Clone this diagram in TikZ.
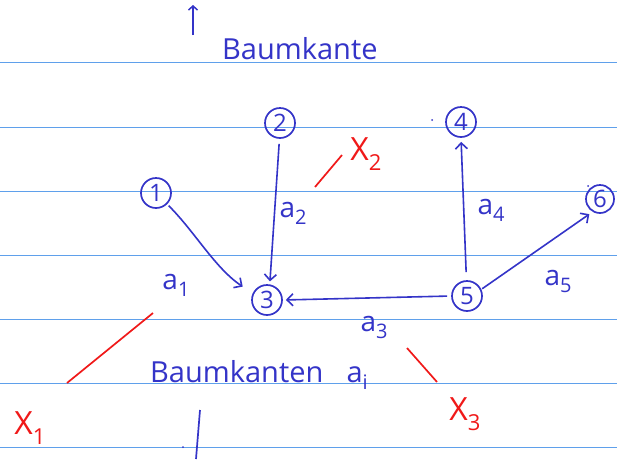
\documentclass[tikz,border=0pt]{standalone}
\usepackage{fontspec}
\setmainfont{Open Sans}
\usetikzlibrary{arrows.meta}
\definecolor{ink}{RGB}{52,52,200}
\definecolor{ruleblue}{RGB}{95,160,235}
\definecolor{redink}{RGB}{240,25,25}
\newcommand{\lsub}[1]{\raisebox{-7pt}{\fontsize{20}{20}\selectfont #1}}
\newcommand{\xsub}[1]{\raisebox{-10pt}{\fontsize{22}{22}\selectfont #1}}
\begin{document}
\begin{tikzpicture}[x=1pt,y=-1pt,
  vertex/.style={draw=ink,text=ink,circle,line width=1.7pt,minimum size=30pt,inner sep=0pt,font=\fontsize{24}{24}\selectfont},
  edge/.style={draw=ink,line width=1.6pt,-{Straight Barb[length=6pt,width=12pt,line width=1.6pt]}},
  elabel/.style={text=ink,font=\fontsize{28}{28}\selectfont,inner sep=0pt},
  xlabel/.style={text=redink,font=\fontsize{32}{32}\selectfont,inner sep=0pt},
  redline/.style={draw=redink,line width=1.7pt},
  inkline/.style={draw=ink,line width=1.7pt}]
\useasboundingbox (0,0) rectangle (617,459);
\fill[white] (0,0) rectangle (617,459);
\foreach \yy in {62,127,191,255,319,383,447} \draw[ruleblue,line width=1pt] (0,\yy) -- (617,\yy);
% title
\coordinate (upA) at (193,35);
\coordinate (upB) at (193,5);
\draw[inkline,-{Straight Barb[length=4pt,width=9pt,line width=1.5pt]}] (upA) -- (upB);
\node[text=ink,font=\fontsize{29}{29}\selectfont,anchor=base west,inner sep=0pt] (title) at (222,59) {Baumkante};
% vertices
\node[vertex] (n1) at (156,193) {1};
\node[vertex] (n2) at (280,123) {2};
\node[vertex] (n3) at (267,300) {3};
\node[vertex] (n4) at (461,122) {4};
\node[vertex] (n5) at (467,296) {5};
\node[vertex,minimum size=28pt] (n6) at (600,199) {6};
% edges
\draw[edge,shorten <=2pt,shorten >=12pt] (n1.-45) .. controls (195,232) and (215,268) .. (n3.155);
\draw[edge,shorten <=5pt,shorten >=3pt] (n2.-92) -- (n3.80);
\draw[edge,shorten <=4pt,shorten >=3pt] (n5.180) -- (n3.0);
\draw[edge,shorten <=8pt,shorten >=4pt] (n5.92) -- (n4.-90);
\draw[edge,shorten <=1pt,shorten >=4pt] (n5.25) -- (n6.-120);
% edge labels
\node[elabel] (a1) at (176,285) {a\lsub{1}};
\node[elabel] (a2) at (293,213) {a\lsub{2}};
\node[elabel] (a3) at (374,327) {a\lsub{3}};
\node[elabel] (a4) at (491,210) {a\lsub{4}};
\node[elabel] (a5) at (558,281) {a\lsub{5}};
% bottom text
\node[text=ink,font=\fontsize{29}{29}\selectfont,anchor=base west,inner sep=0pt] (bk) at (150,382) {Baumkanten\hspace{0.8em}a\lsub{i}};
% red cuts
\coordinate (c1a) at (67,383); \coordinate (c1b) at (153,313);
\draw[redline] (c1a) -- (c1b);
\coordinate (c2a) at (315,187); \coordinate (c2b) at (342,155);
\draw[redline] (c2a) -- (c2b);
\coordinate (c3a) at (407,348); \coordinate (c3b) at (437,382);
\draw[redline] (c3a) -- (c3b);
\node[xlabel] (x1) at (30,428) {X\xsub{1}};
\node[xlabel] (x2) at (366,154) {X\xsub{2}};
\node[xlabel] (x3) at (465,414) {X\xsub{3}};
% bottom stroke
\coordinate (bsa) at (200,410); \coordinate (bsb) at (196,459);
\draw[inkline] (bsa) -- (bsb);
\fill[ink] (183,447) circle (1pt);
\fill[ink] (432,120) circle (1pt);
\fill[ink] (588,186) circle (1pt);
\end{tikzpicture}
\end{document}
